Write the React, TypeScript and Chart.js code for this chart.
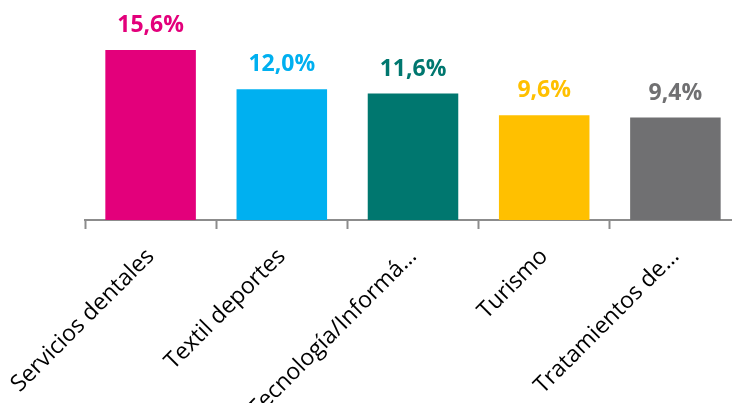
import React, { useEffect, useRef } from "react";
import { Chart, registerables } from "chart.js";

Chart.register(...registerables);

const categories = [
  "Servicios dentales",
  "Textil deportes",
  "Tecnología/Informá…",
  "Turismo",
  "Tratamientos de…",
];
const values = [15.6, 12.0, 11.6, 9.6, 9.4];
const colors = ["#E3007B", "#00B0F0", "#00776F", "#FFC000", "#707072"];
const valueLabels = ["15,6%", "12,0%", "11,6%", "9,6%", "9,4%"];

const valueLabelPlugin = {
  id: "valueLabels",
  afterDatasetsDraw(chart: any) {
    const ctx = chart.ctx;
    const meta = chart.getDatasetMeta(0);
    ctx.save();
    ctx.font = "bold 23px 'Open Sans'";
    ctx.textAlign = "center";
    ctx.textBaseline = "alphabetic";
    meta.data.forEach((bar: any, i: number) => {
      ctx.fillStyle = colors[i];
      ctx.fillText(valueLabels[i], bar.x, bar.y - 18);
    });
    ctx.restore();
  },
};

export default function App() {
  const ref = useRef<HTMLCanvasElement>(null);
  useEffect(() => {
    if (!ref.current) return;
    const chart = new Chart(ref.current, {
      type: "bar",
      data: {
        labels: categories,
        datasets: [
          {
            data: values,
            backgroundColor: colors,
            borderWidth: 0,
            barPercentage: 0.69,
            categoryPercentage: 1,
          },
        ],
      },
      options: {
        animation: false,
        responsive: false,
        devicePixelRatio: 1,
        layout: { padding: { left: 85, right: 19, top: 2, bottom: 0 } },
        plugins: { legend: { display: false }, tooltip: { enabled: false } },
        scales: {
          y: { display: false, min: 0, max: 20 },
          x: {
            afterFit: (scale: any) => {
              scale.paddingLeft = 0;
              scale.paddingRight = 0;
              scale.height = 183;
            },
            border: { display: true, color: "#8C8C8C", width: 2 },
            grid: {
              display: true,
              offset: true,
              drawOnChartArea: false,
              drawTicks: true,
              tickLength: 9,
              tickWidth: 2,
              tickColor: "#8C8C8C",
            },
            ticks: {
              autoSkip: false,
              minRotation: 45,
              maxRotation: 45,
              color: "#000000",
              padding: 14,
              font: { family: "'Open Sans'", size: 23 },
            },
          },
        },
      },
      plugins: [valueLabelPlugin],
    });
    return () => chart.destroy();
  }, []);
  return (
    <div
      style={{
        position: "fixed",
        left: 0,
        top: 0,
        width: 732,
        height: 403,
        overflow: "hidden",
        background: "#fff",
      }}
    >
      <canvas ref={ref} width={760} height={403} style={{ display: "block" }} />
    </div>
  );
}
